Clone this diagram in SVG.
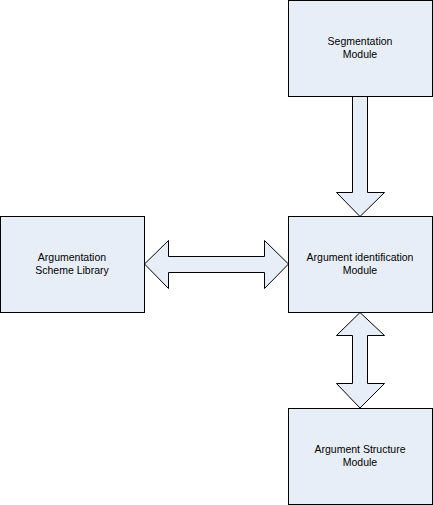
<svg xmlns="http://www.w3.org/2000/svg" width="433" height="505" viewBox="0 0 433 505">
<style>
.box{fill:#E8EEF7;stroke:#000;stroke-width:1}
.arr{fill:#E8EEF7;stroke:#000;stroke-width:1}
text{font-family:"Liberation Sans",Arial,sans-serif;font-size:10.5px;fill:#000;text-anchor:middle}
</style>
<rect width="433" height="505" fill="#fff"/>
<g id="connectors">
<polygon class="arr" points="352.5,96.5 367.5,96.5 367.5,192.5 384.5,192.5 360,216.5 336.5,192.5 352.5,192.5"/>
<polygon class="arr" points="144.5,264 168.5,240.5 168.5,256.5 264.5,256.5 264.5,240.5 288.5,264 264.5,288.5 264.5,272.5 168.5,272.5 168.5,288.5"/>
<polygon class="arr" points="360,312.5 384.5,335.5 367.5,335.5 367.5,383.5 384.5,383.5 360,408 336.5,383.5 352.5,383.5 352.5,335.5 336.5,335.5"/>
</g>
<g id="segmentation">
<rect class="box" x="288.5" y="0.5" width="144" height="96"/>
<text x="360" y="45">Segmentation</text>
<text x="360" y="58">Module</text>
</g>
<g id="library">
<rect class="box" x="0.5" y="216.5" width="144" height="96"/>
<text x="72" y="261">Argumentation</text>
<text x="72" y="274">Scheme Library</text>
</g>
<g id="identification">
<rect class="box" x="288.5" y="216.5" width="144" height="96"/>
<text x="360" y="261">Argument identification</text>
<text x="360" y="274">Module</text>
</g>
<g id="structure">
<rect class="box" x="288.5" y="408.5" width="144" height="96"/>
<text x="360" y="453">Argument Structure</text>
<text x="360" y="466">Module</text>
</g>
</svg>
